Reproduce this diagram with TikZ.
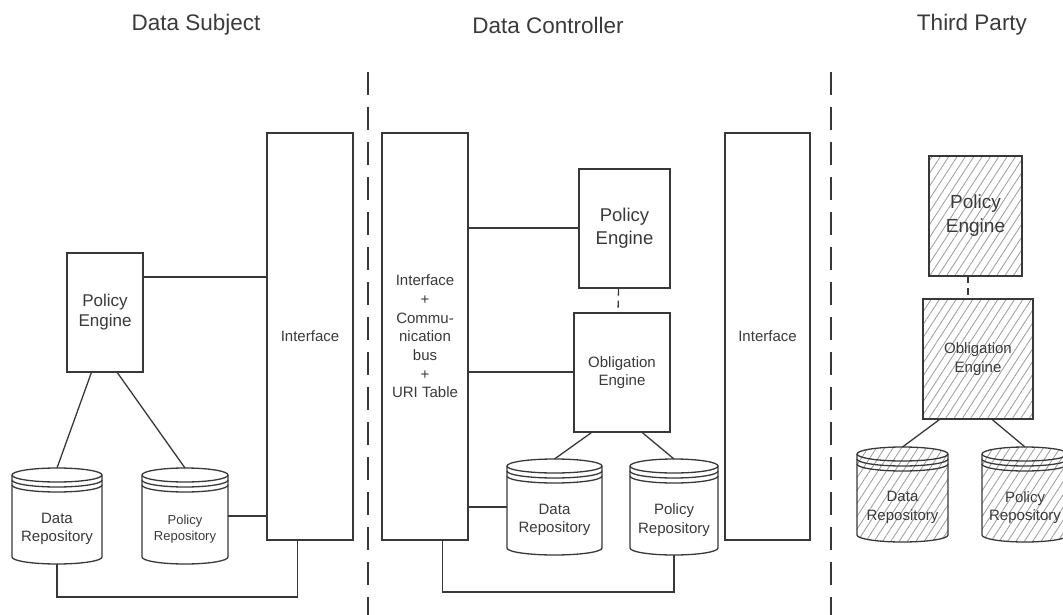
\documentclass[tikz,border=0pt]{standalone}
\usepackage{fontspec}
\setmainfont{Liberation Sans}
\usetikzlibrary{calc,patterns.meta}
\definecolor{ink}{HTML}{383838}
\definecolor{txt}{HTML}{3A3A3A}

\tikzset{
  blk/.style={draw=ink, line width=1.3pt, fill=white, inner sep=0pt, align=center, text=txt},
  hatch/.style={pattern={Lines[angle=57,distance=7pt,line width=0.85pt]}, pattern color=black!38},
  plainfill/.style={fill=white},
  link/.style={draw=ink, line width=1.3pt},
  shortdash/.style={dash pattern=on 7pt off 5pt},
  sep/.style={draw=ink, line width=1.5pt, dash pattern=on 23pt off 12pt},
  title/.style={font=\fontsize{22.5}{27}\selectfont, text=txt},
  fA/.style={font=\fontsize{18}{21}\selectfont},
  fB/.style={font=\fontsize{15}{18.7}\selectfont},
  fC/.style={font=\fontsize{13}{16.5}\selectfont},
}

% Repository cylinder: name, centre x, top row, width, height, fill style, font style, label
\newcommand\repo[8]{%
  \node[minimum width=#4pt, minimum height=#5pt, inner sep=0pt, outer sep=0pt] (#1) at (#2,-#3-#5/2) {};
  \path[#6, draw=ink, line width=1.3pt]
    ($(#1.north west)+(0,-7)$) -- ($(#1.south west)+(0,7)$)
    arc[start angle=180, end angle=360, x radius={#4*0.5pt}, y radius=7pt]
    -- ($(#1.north east)+(0,-7)$)
    arc[start angle=0, end angle=180, x radius={#4*0.5pt}, y radius=7pt] -- cycle;
  \draw[link] ($(#1.north west)+(0,-7)$) arc[start angle=180, end angle=360, x radius={#4*0.5pt}, y radius=7pt];
  \draw[link] ($(#1.north west)+(0,-12)$) arc[start angle=180, end angle=360, x radius={#4*0.5pt}, y radius=7pt];
  \draw[link] ($(#1.north west)+(0,-17)$) arc[start angle=180, end angle=360, x radius={#4*0.5pt}, y radius=7pt];
  \node[#7, text=txt, align=center, inner sep=0pt] (#1-label) at ($(#1.center)+(0,-13)$) {#8};
}

\begin{document}
\begin{tikzpicture}[x=1pt, y=1pt]
\useasboundingbox (0,0) rectangle (1063,-615);

% column titles
\node[title] (t1) at (196,-25) {Data Subject};
\node[title] (t2) at (548,-25) {Data Controller};
\node[title] (t3) at (972,-25) {Third Party};

% separators between the parties
\coordinate (s1a) at (368,-72);
\coordinate (s1b) at (368,-615);
\coordinate (s2a) at (831,-72);
\coordinate (s2b) at (831,-615);
\draw[sep] (s1a) -- (s1b);
\draw[sep] (s2a) -- (s2b);

% ---------------- Data Subject ----------------
\node[blk, fA, font=\fontsize{15}{18.7}\selectfont, minimum width=86pt, minimum height=407pt] (ds_if) at (310,-336.5) {Interface};
\node[blk, fA, font=\fontsize{17}{20}\selectfont, minimum width=76pt, minimum height=119pt] (ds_pe) at (105,-312.5) {Policy\\Engine};
\repo{ds_dr}{57}{468}{90}{96}{plainfill}{fB}{Data\\Repository}
\repo{ds_pr}{185}{468}{86}{96}{plainfill}{fC}{Policy\\Repository}

\coordinate (ds_r1) at (0,-277);
\draw[link] (ds_pe.east |- ds_r1) -- (ds_if.west |- ds_r1);
\draw[link] ($(ds_pe.south west)+(25,0)$) -- (ds_dr.north);
\draw[link] ($(ds_pe.south west)+(51,0)$) -- (ds_pr.north);
\draw[link] (ds_pr.east) -- (ds_if.west |- ds_pr.east);
\coordinate (ds_b) at ($(ds_if.south west)+(31,0)$);
\coordinate (ds_bus) at (0,-597);
\draw[link] (ds_dr.south) |- (ds_bus -| ds_b) -- (ds_b);

% ---------------- Data Controller ----------------
\node[blk, fB, minimum width=86pt, minimum height=407pt] (dc_bus) at (425,-336.5)
  {Interface\\+\\Commu-\\nication\\bus\\+\\URI Table};
\node[blk, fA, font=\fontsize{18.5}{23}\selectfont, minimum width=91pt, minimum height=119pt] (dc_pe) at (624.5,-228.5) {Policy\\Engine};
\node[blk, fB, minimum width=96pt, minimum height=119pt] (dc_oe) at (622,-372.5) {Obligation\\Engine};
\node[blk, fB, minimum width=85pt, minimum height=407pt] (dc_if) at (767.5,-336.5) {Interface};
\repo{dc_dr}{554.5}{459}{95}{96}{plainfill}{fB}{Data\\Repository}
\repo{dc_pr}{674}{459}{88}{96}{plainfill}{fB}{Policy\\Repository}

\coordinate (dc_r1) at (0,-228);
\draw[link] (dc_bus.east |- dc_r1) -- (dc_pe.west |- dc_r1);
\coordinate (dc_r2) at (0,-372);
\draw[link] (dc_bus.east |- dc_r2) -- (dc_oe.west |- dc_r2);
\draw[link, shortdash] ($(dc_pe.south)+(-6,0)$) -- ($(dc_oe.north)+(-4,0)$);
\draw[link] ($(dc_oe.south west)+(18,0)$) -- (dc_dr.north);
\draw[link] ($(dc_oe.south west)+(69,0)$) -- (dc_pr.north);
\draw[link] (dc_dr.west) -- (dc_bus.east |- dc_dr.west);
\coordinate (dc_b) at ($(dc_bus.south west)+(61,0)$);
\coordinate (dc_busy) at (0,-592);
\draw[link] (dc_b) |- (dc_busy -| dc_pr.south) -- (dc_pr.south);

% ---------------- Third Party ----------------
\node[blk, hatch, font=\fontsize{19}{24}\selectfont, minimum width=93pt, minimum height=120pt] (tp_pe) at (975.5,-216) {Policy\\Engine};
\node[blk, hatch, fB, minimum width=110pt, minimum height=120pt] (tp_oe) at (978,-359) {Obligation\\Engine};
\repo{tp_dr}{902.5}{447}{91}{95}{hatch}{fB}{Data\\Repository}
\repo{tp_pr}{1025}{447}{86}{95}{hatch}{fB}{Policy\\Repository}

\draw[link, shortdash] ($(tp_pe.south)+(-7.5,0)$) -- ($(tp_oe.north)+(-10,0)$);
\draw[link] ($(tp_oe.south west)+(17,0)$) -- (tp_dr.north);
\draw[link] ($(tp_oe.south west)+(70,0)$) -- (tp_pr.north);
\end{tikzpicture}
\end{document}
